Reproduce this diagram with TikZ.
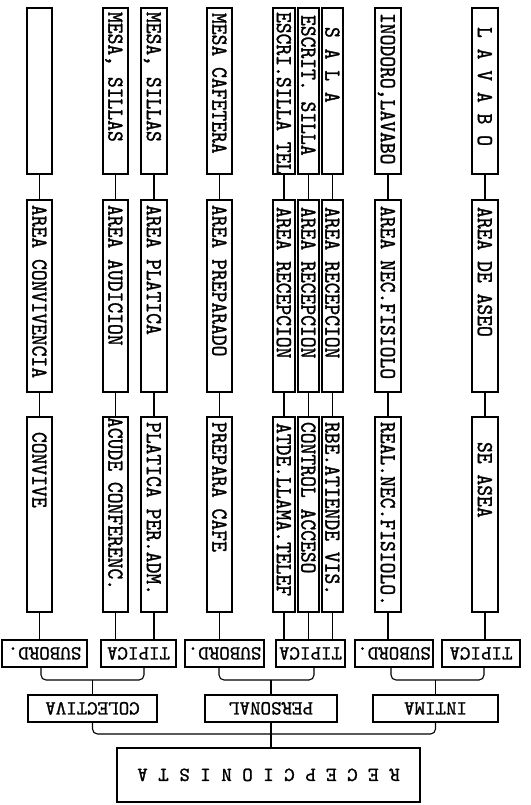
\documentclass[tikz,border=0pt]{standalone}
\usepackage{fontspec}
\usepackage{graphicx}
\newfontfamily\vfnt{lmmono10-regular}[Extension=.otf,FakeStretch=0.9,FakeBold=1.2]
\newfontfamily\hfnt{lmmono10-regular}[Extension=.otf,FakeStretch=1.0,FakeBold=1.2]
\newcommand\vtxt[3]{\rotatebox{-90}{\makebox[#1pt][l]{\hspace*{#2pt}\smash{#3}\vphantom{A}}}}
\newcommand\htxt[1]{\rotatebox{180}{\smash{#1}\vphantom{A}}}
\tikzset{
  vbox/.style={draw, line width=1.2pt, inner sep=0pt, minimum width=#1pt,
    font=\vfnt\fontsize{22.9}{22.9}\selectfont},
  hbox/.style n args={2}{draw, line width=1.2pt, inner sep=0pt, minimum width=#1pt,
    minimum height=#2pt, font=\hfnt\fontsize{20}{20}\selectfont},
  conn/.style={line width=1.1pt},
  bracket/.style={line width=1.1pt, rounded corners=5pt},
}
\begin{document}
\begin{tikzpicture}[x=1pt,y=-1pt]
\useasboundingbox (0,0) rectangle (530,805);
% top row
\node[vbox=25] (a1) at (39.5,91)  {\vtxt{166}{0}{}};
\node[vbox=25] (a2) at (115.5,91) {\vtxt{166}{4}{MESA, SILLAS}};
\node[vbox=26] (a3) at (154,91)   {\vtxt{166}{4}{MESA, SILLAS}};
\node[vbox=25] (a4) at (219.5,91) {\vtxt{166}{5}{MESA CAFETERA}};
\node[vbox=22] (a5) at (284,91)   {\vtxt{166}{4}{ESCRI.SILLA TEL}};
\node[vbox=21] (a6) at (308.5,91) {\vtxt{166}{7}{ESCRIT. SILLA}};
\node[vbox=21] (a7) at (332.5,91) {\vtxt{166}{19}{S A L A}};
\node[vbox=26] (a8) at (388,91)   {\vtxt{166}{5}{INODORO,LAVABO}};
\node[vbox=26] (a9) at (485,91)   {\vtxt{166}{19}{L A V A B O}};
% area row
\node[vbox=25] (b1) at (39.5,296)  {\vtxt{192}{5}{AREA CONVIVENCIA}};
\node[vbox=25] (b2) at (115.5,296) {\vtxt{192}{5}{AREA AUDICION}};
\node[vbox=26] (b3) at (154,296)   {\vtxt{192}{5}{AREA PLATICA}};
\node[vbox=25] (b4) at (219.5,296) {\vtxt{192}{5}{AREA PREPARADO}};
\node[vbox=22] (b5) at (284,296)   {\vtxt{192}{7}{AREA RECEPCION}};
\node[vbox=21] (b6) at (308.5,296) {\vtxt{192}{7}{AREA RECEPCION}};
\node[vbox=21] (b7) at (332.5,296) {\vtxt{192}{7}{AREA RECEPCION}};
\node[vbox=26] (b8) at (388,296)   {\vtxt{192}{6}{AREA NEC.FISIOLO}};
\node[vbox=26] (b9) at (485,296)   {\vtxt{192}{7}{AREA DE ASEO}};
% activity row
\node[vbox=25] (c1) at (39.5,514.5)  {\vtxt{195}{15}{CONVIVE}};
\node[vbox=25] (c2) at (115.5,514.5) {\vtxt{195}{0}{ACUDE CONFERENC.}};
\node[vbox=26] (c3) at (154,514.5)   {\vtxt{195}{5}{PLATICA PER.ADM.}};
\node[vbox=25] (c4) at (219.5,514.5) {\vtxt{195}{5}{PREPARA CAFE}};
\node[vbox=22] (c5) at (284,514.5)   {\vtxt{195}{6}{ATDE.LLAMA.TELEF}};
\node[vbox=21] (c6) at (308.5,514.5) {\vtxt{195}{5}{CONTROL ACCESO}};
\node[vbox=21] (c7) at (332.5,514.5) {\vtxt{195}{5}{RBE.ATIENDE VIS.}};
\node[vbox=26] (c8) at (388,514.5)   {\vtxt{195}{5}{REAL.NEC.FISIOLO.}};
\node[vbox=26] (c9) at (485,514.5)   {\vtxt{195}{25}{SE ASEA}};
% type row
\node[hbox={85}{27}] (sub1) at (44.5,653.5)  {\htxt{SUBORD.}};
\node[hbox={75}{27}] (tip1) at (138.5,653.5) {\htxt{TIPICA}};
\node[hbox={79}{27}] (sub2) at (224.5,653.5) {\htxt{SUBORD.}};
\node[hbox={69}{27}] (tip2) at (310.5,653.5) {\htxt{TIPICA}};
\node[hbox={78}{27}] (sub3) at (394,653.5)   {\htxt{SUBORD.}};
\node[hbox={78}{27}] (tip3) at (481,653.5)   {\htxt{TIPICA}};
% category row
\node[hbox={129}{27}] (col) at (92.5,708.5) {\htxt{COLECTIVA}};
\node[hbox={132}{27}] (per) at (271,708.5)  {\htxt{PERSONAL}};
\node[hbox={125}{27}] (int) at (435.5,708.5) {\htxt{INTIMA}};
% root
\node[hbox={303}{54}, line width=1.8pt] (root) at (268.5,775) {\htxt{R E C E P C I O N I S T A}};
% vertical connectors
\foreach \i in {1,...,9} {
  \draw[conn] (a\i) -- (b\i);
  \draw[conn] (b\i) -- (c\i);
}
\draw[conn] (c1) -- (c1 |- sub1.north);
\draw[conn] (c2) -- (c2 |- tip1.north);
\draw[conn] (c3) -- (c3 |- tip1.north);
\draw[conn] (c4) -- (c4 |- sub2.north);
\draw[conn] (c5) -- (c5 |- tip2.north);
\draw[conn] (c6) -- (c6 |- tip2.north);
\draw[conn] (c7) -- (c7 |- tip2.north);
\draw[conn] (c8) -- (c8 |- sub3.north);
\draw[conn] (c9) -- (c9 |- tip3.north);
% brackets
\coordinate (kc) at (92.5,680);
\coordinate (kp) at (271,680);
\coordinate (ki) at (435.5,680);
\coordinate (kr) at (271,734);
\draw[bracket] ([xshift=-3.5pt]sub1.south) |- (kc) -| ([xshift=5.5pt]tip1.south);
\draw[conn] (col.north) -- (kc);
\draw[bracket] ([xshift=-5.5pt]sub2.south) |- (kp) -| ([xshift=3.5pt]tip2.south);
\draw[conn] (per.north) -- (kp);
\draw[bracket] ([xshift=-3pt]sub3.south) |- (ki) -| ([xshift=3pt]tip3.south);
\draw[conn] (int.north) -- (ki);
\draw[bracket] (col.south) |- (kr) -| (int.south);
\draw[conn] (per.south) -- (per.south |- root.north);
\end{tikzpicture}
\end{document}
